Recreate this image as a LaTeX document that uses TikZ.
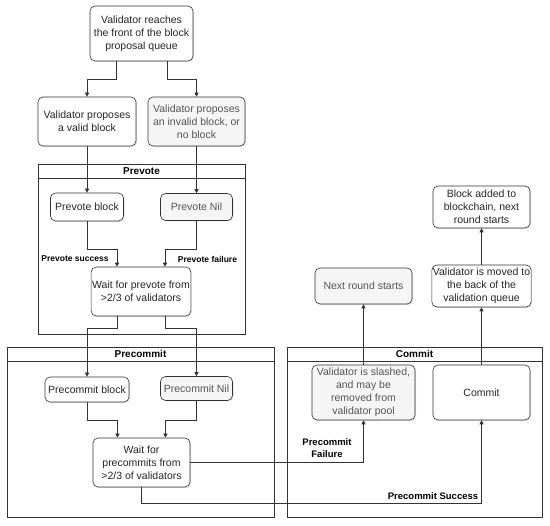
\documentclass[tikz,border=0pt]{standalone}
\usepackage{fontspec}
\setmainfont{Liberation Sans}
\usetikzlibrary{arrows.meta,calc,shadows}
\definecolor{linec}{HTML}{333333}
\definecolor{gfill}{HTML}{F5F5F5}
\definecolor{gtext}{HTML}{555555}
\begin{document}
\begin{tikzpicture}[x=1pt,y=-1pt,
  box/.style={draw=linec, line width=0.6pt, rounded corners=5pt, fill=white, align=center,
    font=\fontsize{10.5}{13}\selectfont, inner sep=1pt, text=black!85,
    drop shadow={shadow xshift=1pt, shadow yshift=-1pt, opacity=0.25}},
  gbox/.style={box, fill=gfill, text=gtext},
  arr/.style={draw=linec, line width=0.6pt, -{Triangle[length=4pt,width=4pt]}},
  lbl/.style={font=\bfseries\fontsize{8.5}{11}\selectfont, align=center, text=black},
  lblb/.style={font=\bfseries\fontsize{9.5}{12}\selectfont, align=center, text=black},
  cont/.style={draw=linec, line width=0.6pt},
  ttl/.style={font=\bfseries\fontsize{10}{12}\selectfont, text=black}]
\useasboundingbox (0,0) rectangle (550,526);

% containers
\draw[cont] (38,164) rectangle (245,334);
\draw[cont] (38,178) -- (245,178);
\node[ttl] (tpv) at (141.5,171) {Prevote};
\draw[cont] (7,347) rectangle (274,517);
\draw[cont] (7,361) -- (274,361);
\node[ttl] (tpc) at (140.5,354) {Precommit};
\draw[cont] (287,347) rectangle (542,517);
\draw[cont] (287,361) -- (542,361);
\node[ttl] (tcm) at (414.5,354) {Commit};

% nodes
\node[box, minimum width=103pt, minimum height=55pt] (top) at (141.5,33.5) {Validator reaches\\the front of the block\\proposal queue};
\node[box, minimum width=98pt, minimum height=49pt] (valid) at (87,121.5) {Validator proposes\\a valid block};
\node[gbox, minimum width=97pt, minimum height=49pt] (invalid) at (196.5,121.5) {Validator proposes\\an invalid block, or\\no block};
\node[box, minimum width=73pt, minimum height=28pt] (pvb) at (87,207) {Prevote block};
\node[gbox, minimum width=72pt, minimum height=27pt] (pvn) at (196.5,207) {Prevote Nil};
\node[box, minimum width=98pt, minimum height=49pt] (waitpv) at (141,291.5) {Wait for prevote from\\>2/3 of validators};
\node[box, minimum width=84pt, minimum height=25pt] (pcb) at (87,389.5) {Precommit block};
\node[gbox, minimum width=72pt, minimum height=24pt] (pcn) at (196.5,388.5) {Precommit Nil};
\node[box, minimum width=97pt, minimum height=49pt] (waitpc) at (141.5,462.5) {Wait for\\precommits from\\>2/3 of validators};
\node[gbox, minimum width=103pt, minimum height=55pt] (slashed) at (363.5,392.5) {Validator is slashed,\\and may be\\removed from\\validator pool};
\node[box, minimum width=97pt, minimum height=55pt] (commit) at (481.5,392.5) {Commit};
\node[gbox, minimum width=97pt, minimum height=36pt] (next) at (363.5,286) {Next round starts};
\node[box, minimum width=97pt, minimum height=42pt] (moved) at (481.5,286) {Validator is moved to\\the back of the\\validation queue};
\node[box, minimum width=97pt, minimum height=42pt] (added) at (481.5,207) {Block added to\\blockchain, next\\round starts};

% labels
\node[lbl] (lpvs) at (75,259) {Prevote success};
\node[lbl] (lpvf) at (207.5,259) {Prevote failure};
\node[lblb] (lpcf) at (327,448) {Precommit\\Failure};
\node[lblb] (lpcs) at (433,496) {Precommit Success};

% connectors
\draw[arr] ([xshift=-25.5pt]top.south) -- ++(0,18) -| (valid.north);
\draw[arr] ([xshift=25.5pt]top.south) -- ++(0,18) -| (invalid.north);
\draw[arr] (valid.south) -- (pvb.north);
\draw[arr] (invalid.south) -- (pvn.north);
\draw[arr] (pvb.south) -- ++(0,28) -| ([xshift=-24pt]waitpv.north);
\draw[arr] (pvn.south) -- ++(0,28.5) -| ([xshift=24pt]waitpv.north);
\draw[arr] ([xshift=-24pt]waitpv.south) -- ++(0,12) -| (pcb.north);
\draw[arr] ([xshift=24pt]waitpv.south) -- ++(0,12) -| (pcn.north);
\draw[arr] (pcb.south) -- ++(0,18) -| ([xshift=-24pt]waitpc.north);
\draw[arr] (pcn.south) -- ++(0,19.5) -| ([xshift=24pt]waitpc.north);
\draw[arr] (waitpc.east) -| (slashed.south);
\draw[arr] (waitpc.south) -- ++(0,16) -| (commit.south);
\draw[arr] (slashed.north) -- (next.south);
\draw[arr] (commit.north) -- (moved.south);
\draw[arr] (moved.north) -- (added.south);
\end{tikzpicture}
\end{document}
